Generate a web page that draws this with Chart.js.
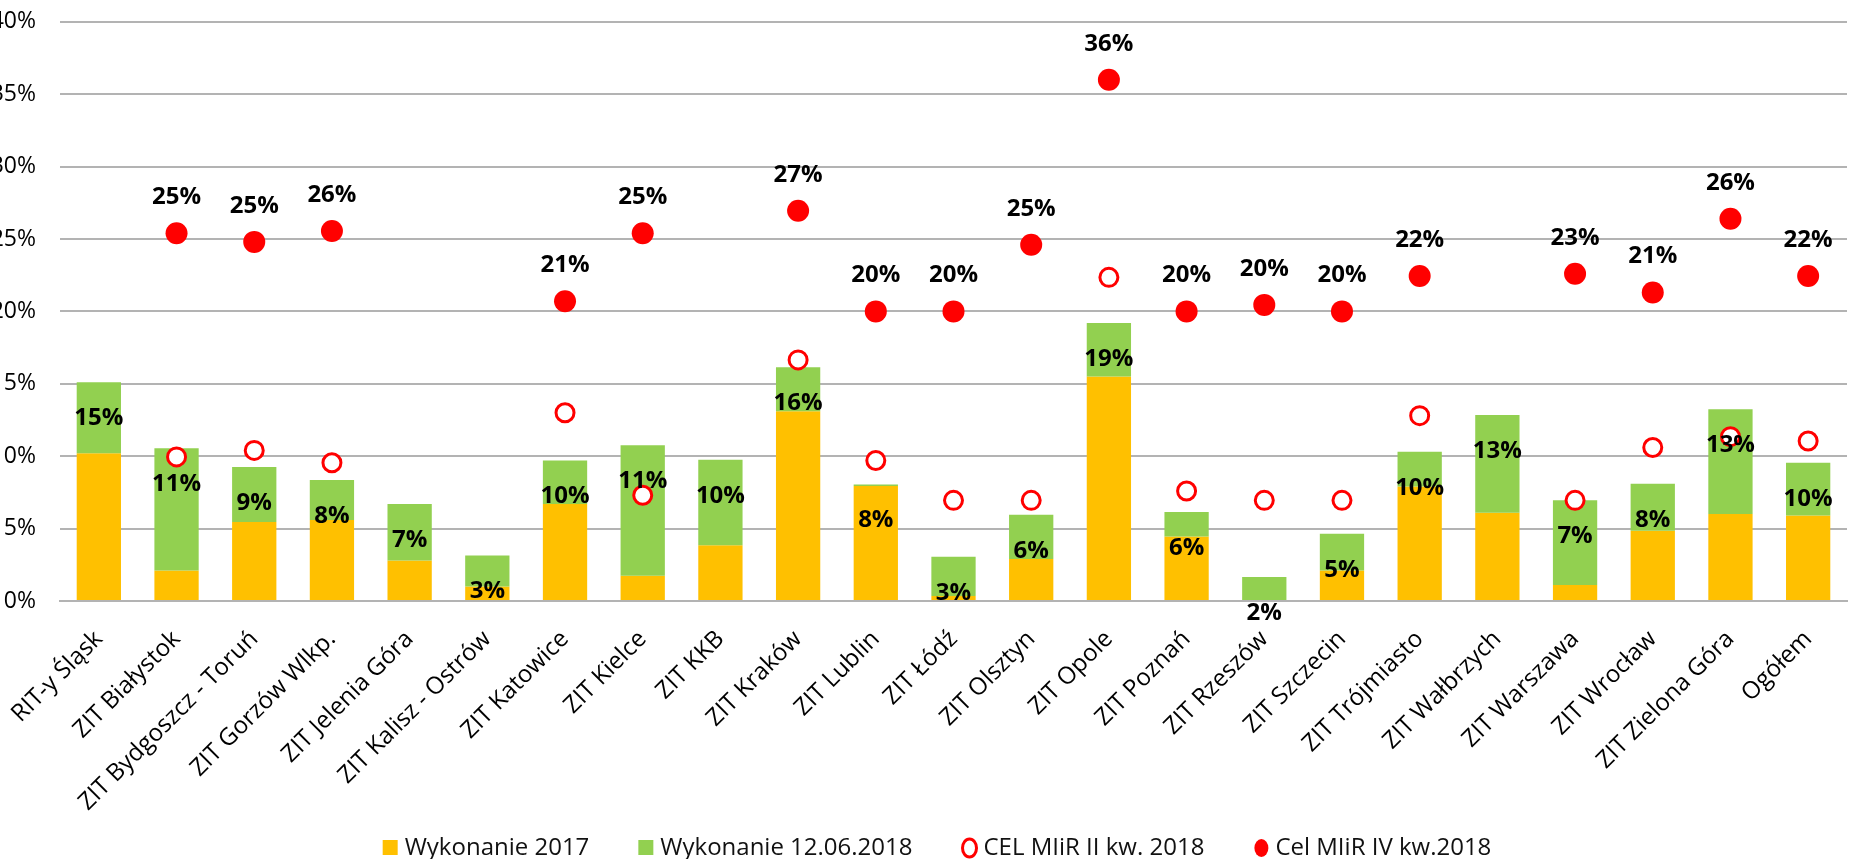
<!DOCTYPE html>
<html>
<head>
<meta charset="utf-8">
<script src="https://cdn.jsdelivr.net/npm/chart.js@4"></script>
<style>
  html, body { margin: 0; padding: 0; background: #fff; overflow: hidden; }
  #wrap { position: absolute; left: -30px; top: -16px; width: 1889px; height: 875px; }
</style>
</head>
<body>
<div id="wrap"><canvas id="chart"></canvas></div>
<script>
// categories
const regions = [
  "RIT-y Śląsk", "ZIT Białystok", "ZIT Bydgoszcz - Toruń", "ZIT Gorzów Wlkp.",
  "ZIT Jelenia Góra", "ZIT Kalisz - Ostrów", "ZIT Katowice", "ZIT Kielce",
  "ZIT KKB", "ZIT Kraków", "ZIT Lublin", "ZIT Łódź", "ZIT Olsztyn", "ZIT Opole",
  "ZIT Poznań", "ZIT Rzeszów", "ZIT Szczecin", "ZIT Trójmiasto", "ZIT Wałbrzych",
  "ZIT Warszawa", "ZIT Wrocław", "ZIT Zielona Góra", "Ogółem"
];

// values in %
const wykonanie2017 = [10.2, 2.1, 5.45, 5.6, 2.8, 1.0, 6.7, 1.75, 3.85, 13.1, 7.95, 0.35, 2.9, 15.5,
  4.45, 0, 2.1, 7.9, 6.1, 1.1, 4.85, 6.0, 5.9];
const wykonanie2018 = [15.1, 10.55, 9.25, 8.35, 6.7, 3.15, 9.7, 10.75, 9.75, 16.15, 8.05, 3.05, 5.95, 19.2,
  6.15, 1.65, 4.65, 10.3, 12.85, 6.95, 8.1, 13.25, 9.55];
const celIIkw = [null, 9.95, 10.4, 9.55, null, null, 13.0, 7.3, null, 16.65, 9.7, 6.95, 6.95, 22.35,
  7.6, 6.95, 6.95, 12.8, null, 6.95, 10.6, 11.35, 11.05];
const celIVkw = [null, 25.4, 24.8, 25.55, null, null, 20.7, 25.4, null, 26.95, 20.0, 20.0, 24.6, 36.0,
  20.0, 20.45, 20.0, 22.45, null, 22.6, 21.3, 26.4, 22.45];

const yTicks = [0, 5, 10, 15, 20, 25, 30, 35, 40];

const ORANGE = "#FFC000";
const GREEN = "#92D050";
const RED = "#FF0000";
const FONT = "'Open Sans', 'Noto Sans', sans-serif";

// bold % labels: totals inside the bar top, IV kw. targets above the dots
const valueLabels = {
  id: "valueLabels",
  afterDatasetsDraw(chart) {
    const { ctx, scales: { x, y } } = chart;
    ctx.save();
    ctx.font = "bold 24px " + FONT;
    ctx.fillStyle = "#000";
    ctx.textAlign = "center";
    ctx.textBaseline = "middle";
    regions.forEach((r, i) => {
      const cx = x.getPixelForValue(i);
      ctx.fillText(Math.round(wykonanie2018[i]) + "%", cx, y.getPixelForValue(wykonanie2018[i]) + 36);
      if (celIVkw[i] !== null) {
        ctx.fillText(Math.round(celIVkw[i]) + "%", cx, y.getPixelForValue(celIVkw[i]) - 36);
      }
    });
    ctx.restore();
  }
};

// legend drawn by hand so marker/text spacing matches the Excel one
const bottomLegend = {
  id: "bottomLegend",
  afterDraw(chart) {
    const { ctx } = chart;
    const sets = chart.data.datasets;
    const markerW = 16, gap = 6, itemGap = 49;
    ctx.save();
    ctx.font = "24px " + FONT;
    const widths = sets.map(d => markerW + gap + ctx.measureText(d.label).width);
    const total = widths.reduce((a, b) => a + b, 0) + itemGap * (sets.length - 1);
    let left = 967 - total / 2;
    const cy = 864;
    sets.forEach((d, i) => {
      if (d.type === "line") {
        ctx.beginPath();
        ctx.ellipse(left + markerW / 2, cy, 7, 9, 0, 0, Math.PI * 2);
        if (d.borderWidth) {
          ctx.fillStyle = "#fff";
          ctx.fill();
          ctx.lineWidth = 3;
          ctx.strokeStyle = d.borderColor;
          ctx.stroke();
        } else {
          ctx.fillStyle = d.backgroundColor;
          ctx.fill();
        }
      } else {
        ctx.fillStyle = d.backgroundColor;
        ctx.fillRect(left, cy - 8, 15, 15);
      }
      ctx.fillStyle = "#111";
      ctx.textAlign = "left";
      ctx.textBaseline = "middle";
      ctx.fillText(d.label, left + markerW + gap, cy);
      left += widths[i] + itemGap;
    });
    ctx.restore();
  }
};

new Chart(document.getElementById("chart"), {
  type: "bar",
  data: {
    labels: regions,
    datasets: [
      {
        label: "Wykonanie 2017",
        data: wykonanie2017,
        backgroundColor: ORANGE,
        grouped: false,
        barPercentage: 0.57,
        categoryPercentage: 1,
        order: 3
      },
      {
        label: "Wykonanie 12.06.2018",
        data: wykonanie2018.map((v, i) => [wykonanie2017[i], v]),
        backgroundColor: GREEN,
        grouped: false,
        barPercentage: 0.57,
        categoryPercentage: 1,
        order: 2
      },
      {
        type: "line",
        label: "CEL MIiR II kw. 2018",
        data: celIIkw,
        showLine: false,
        pointStyle: "circle",
        pointRadius: 9,
        pointHoverRadius: 9,
        backgroundColor: "#fff",
        borderColor: RED,
        borderWidth: 3,
        order: 1
      },
      {
        type: "line",
        label: "Cel MIiR IV kw.2018",
        data: celIVkw,
        showLine: false,
        pointStyle: "circle",
        pointRadius: 11,
        pointHoverRadius: 11,
        backgroundColor: RED,
        borderColor: RED,
        borderWidth: 0,
        order: 0
      }
    ]
  },
  options: {
    responsive: true,
    maintainAspectRatio: false,
    animation: false,
    layout: { padding: 0 },
    plugins: {
      tooltip: { enabled: false },
      legend: { display: false }
    },
    scales: {
      x: {
        grid: { display: false },
        border: { display: true, color: "#b3b3b3", width: 2 },
        ticks: {
          minRotation: 45,
          maxRotation: 45,
          autoSkip: false,
          padding: 16,
          color: "#000",
          font: { family: FONT, size: 24 }
        },
        afterFit: s => { s.height = 258; }
      },
      y: {
        min: 0,
        max: 40,
        border: { display: false },
        grid: { color: "#b3b3b3", lineWidth: 2, drawTicks: false },
        afterBuildTicks: s => { s.ticks = yTicks.map(v => ({ value: v })); },
        ticks: {
          padding: 24,
          color: "#000",
          font: { family: FONT, size: 23 },
          callback: v => v + "%"
        },
        afterFit: s => { s.width = 90; }
      }
    }
  },
  plugins: [valueLabels, bottomLegend]
});
</script>
</body>
</html>
